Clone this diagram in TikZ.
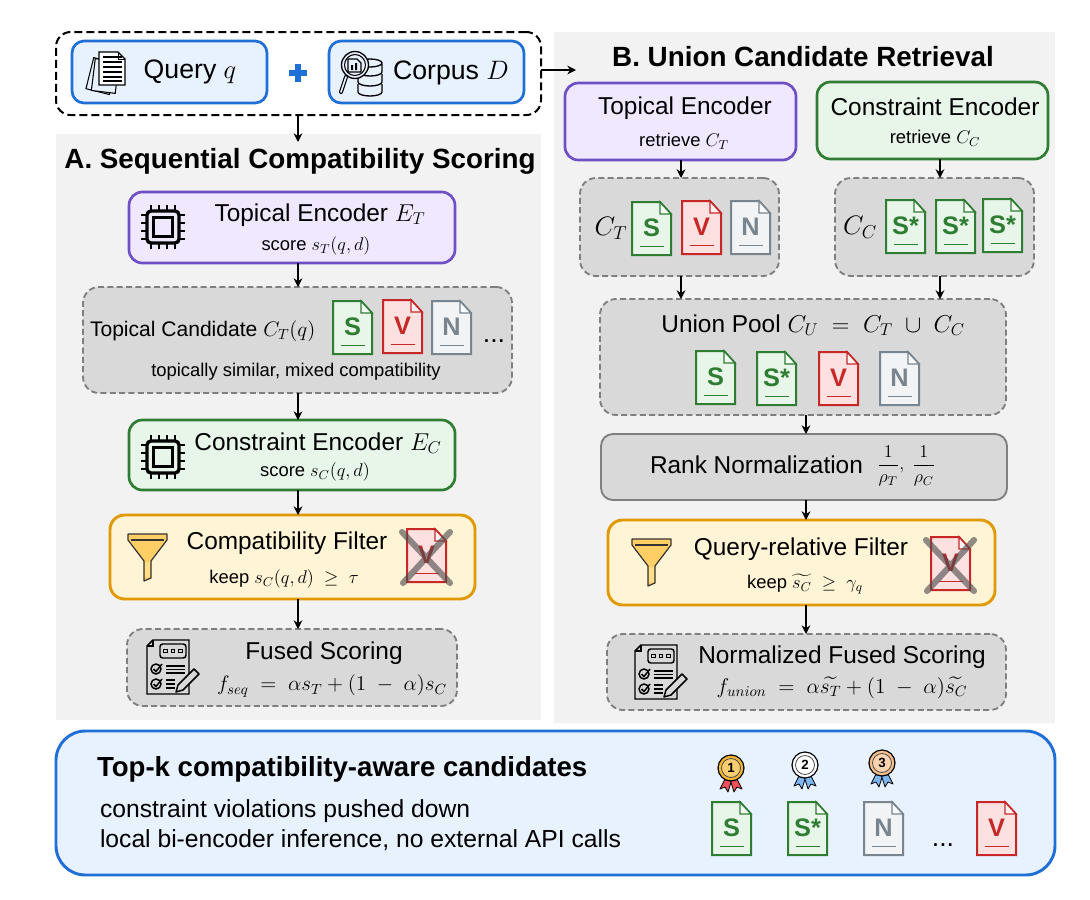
\documentclass[tikz,border=0pt]{standalone}
\usepackage{fix-cm}
\usepackage{amsmath}
\usepackage{fontspec}
\setmainfont{Liberation Sans}
\usetikzlibrary{arrows.meta}
\definecolor{panelc}{HTML}{F2F2F2}
\definecolor{bluel}{HTML}{1F6FD6}
\definecolor{bluef}{HTML}{E8F1FE}
\definecolor{purl}{HTML}{6F4FC4}
\definecolor{purf}{HTML}{F0E8FF}
\definecolor{grnl}{HTML}{2E7D32}
\definecolor{grnf}{HTML}{E8F5E9}
\definecolor{orgl}{HTML}{E09A00}
\definecolor{orgf}{HTML}{FFF4D6}
\definecolor{grayl}{HTML}{7F7F7F}
\definecolor{grayf}{HTML}{D9D9D9}
\definecolor{redl}{HTML}{C62828}
\definecolor{redf}{HTML}{FDE0E0}
\definecolor{redt}{HTML}{C00000}
\definecolor{ngl}{HTML}{78858F}
\definecolor{ngf}{HTML}{F1F3F5}
\definecolor{funf}{HTML}{FFCF66}
\definecolor{funs}{HTML}{FFE08A}
\definecolor{ribb}{HTML}{7DB6F0}
\definecolor{ribr}{HTML}{F0505A}
\definecolor{gold}{HTML}{F7B733}
\definecolor{bronze}{HTML}{F8C08C}
\newcommand\fs[1]{\fontsize{#1}{#1}\selectfont}
\newcommand\bx[6]{%
  \pgfmathsetmacro\bxw{(#5-#3)*0.75}\pgfmathsetmacro\bxh{(#6-#4)*0.75}%
  \pgfmathsetmacro\bxx{(#3+#5)/2}\pgfmathsetmacro\bxy{(#4+#6)/2}%
  \node[#2,minimum width=\bxw pt,minimum height=\bxh pt] (#1) at (\bxx,\bxy) {};}
\tikzset{
  every node/.style={inner sep=0pt,outer sep=0pt},
  panelbox/.style={rectangle,fill=panelc},
  inputgroup/.style={rectangle,draw=black,line width=1.5pt,rounded corners=11pt,dash pattern=on 6pt off 3pt},
  bluebox/.style={rectangle,draw=bluel,fill=bluef,line width=2pt,rounded corners=9pt},
  purbox/.style={rectangle,draw=purl,fill=purf,line width=2pt,rounded corners=10pt},
  grnbox/.style={rectangle,draw=grnl,fill=grnf,line width=2pt,rounded corners=10pt},
  orgbox/.style={rectangle,draw=orgl,fill=orgf,line width=2.2pt,rounded corners=11pt},
  dashbox/.style={rectangle,draw=grayl,fill=grayf,line width=1.4pt,rounded corners=12pt,dash pattern=on 4.5pt off 2.5pt},
  rankbox/.style={rectangle,draw=grayl,fill=grayf,line width=1.4pt,rounded corners=9pt},
  bottombox/.style={rectangle,draw=bluel,fill=bluef,line width=2.2pt,rounded corners=22pt},
  arr/.style={draw=black,line width=1.4pt,-{Stealth[length=6.5pt,width=6.5pt]}},
  tbig/.style={font=\fs{18.3},yshift=-1.5pt},
  tquery/.style={font=\fs{20},yshift=-1.5pt},
  tcand/.style={font=\fs{15.8},yshift=-1.5pt},
  tsmall/.style={font=\fs{13.8},yshift=-1.5pt},
  ttitle/.style={font=\fs{20.85}\bfseries,yshift=-2.2pt},
  tdots/.style={font=\fs{20}},
  pics/docfile/.style n args={3}{code={
    \draw[draw=#2,fill=#1,line width=1.5pt,line join=miter] (0,0) -- (28,0) -- (39,12) -- (39,53) -- (0,53) -- cycle;
    \draw[draw=#2,fill=white!60!#1,line width=1.1pt] (28,0) -- (28,12) -- (39,12) -- cycle;
    \draw[draw=#2,line width=1.4pt] (7.5,44.5) -- (32,44.5);
    \node[font=\fs{19}\bfseries,text=#2] (-lbl) at (19.5,26) {#3};
  }},
  pics/rejected/.style={code={
    \pic {docfile={redf}{redl}{V}};
    \draw[draw=black!70,opacity=.62,line width=4.6pt,line cap=round] (-5,3) -- (43,54) (43,3) -- (-4,54);
  }},
  pics/chip/.style={code={
    \draw[black,line width=2.5pt,rounded corners=3pt] (-16,-16) rectangle (16,16);
    \draw[black,line width=2.5pt] (-9.5,-9.5) rectangle (9.5,9.5);
    \foreach \p in {-12,-4,4,12}{
      \draw[black,line width=2pt] (\p,-22) -- (\p,-16) (\p,16) -- (\p,22) (-22,\p) -- (-16,\p) (16,\p) -- (22,\p);
    }
  }},
  pics/funnel/.style={code={
    \draw[draw=black!80,fill=funf,line width=.9pt,line join=round] (0,0) -- (39,0) -- (39,6) -- (23,27) -- (23,44) -- (16,47) -- (16,27) -- (0,6) -- cycle;
    \draw[draw=black!80,line width=.9pt] (3,6) -- (36,6);
    \fill[funs] (17,28) rectangle (22,43);
  }},
  pics/form/.style={code={
    \draw[black,fill=grayf,line width=1.1pt] (6,0) -- (42,0) -- (42,54) -- (0,54) -- (0,6) -- cycle;
    \draw[black,line width=1.1pt] (6,0) -- (6,6) -- (0,6);
    \draw[black,line width=1.1pt,rounded corners=2pt] (13,4) rectangle (39,18);
    \foreach \p in {18.5,26,33.5}{\draw[black,line width=1pt] (\p-1.8,9.5) rectangle (\p+1.8,12.5);}
    \foreach \p in {29,44}{
      \draw[black,line width=1.1pt] (9,\p) circle (5);
      \draw[black,line width=1.1pt] (6.5,\p) -- (9,\p+2.5) -- (15,\p-5);
    }
    \foreach \p in {26,29.5,33}{\draw[black,line width=1pt] (19,\p) -- (38,\p);}
    \foreach \p in {40,44,48}{\draw[black,line width=1pt] (19,\p) -- (28,\p);}
    \draw[black,fill=grayf,line width=1.1pt,line join=round] (29,52) -- (31,45) -- (47,29) -- (52,34) -- (36,50) -- cycle;
  }},
  pics/pages/.style={code={
    \foreach \a/\dx in {-14/2,-7/6}{
      \draw[black,fill=bluef,line width=.8pt,rotate around={\a:(\dx+12,26)}] (\dx,8) rectangle (\dx+24,40);
    }
    \draw[black,fill=white,line width=1pt] (12,0) -- (31,0) -- (38,7) -- (38,33) -- (12,33) -- cycle;
    \draw[black,line width=.7pt] (31,0) -- (31,7) -- (38,7);
    \foreach \p in {5,10,15,20,25,29}{\draw[black,line width=.9pt] (16,\p) -- (35,\p);}
  }},
  pics/corpus/.style={code={
    \foreach \p in {28,18,8}{
      \draw[black,fill=bluef,line width=1pt] (20,\p+6) -- (20,\p+14) arc[start angle=180,end angle=360,x radius=12,y radius=-4] -- (44,\p+6);
    }
    \draw[black,fill=bluef,line width=1pt] (32,13) ellipse[x radius=12,y radius=4];
    \draw[black,fill=bluef,line width=1pt] (17,15) circle (13.5);
    \draw[black,line width=.8pt] (17,15) circle (10.5);
    \draw[black,fill=bluef,line width=1pt,line join=round] (10,9) -- (19,9) -- (23,13) -- (23,22) -- (10,22) -- cycle;
    \fill[black] (13,15) rectangle (15,20) (17,13) rectangle (19,20);
    \draw[black,line width=3pt,line cap=round] (8,27) -- (3,42);
    \draw[bluef,line width=1.2pt,line cap=round] (8,27) -- (3,42);
  }},
  pics/medal/.style n args={3}{code={
    \draw[black,fill=#2,line width=.6pt,line join=round] (-4,7) -- (-11,21) -- (-6,19) -- (-3,24) -- (1,11) -- cycle;
    \draw[black,fill=#2,line width=.6pt,line join=round] (4,7) -- (11,21) -- (6,19) -- (3,24) -- (-1,11) -- cycle;
    \draw[black,fill=#1,line width=.9pt] (0,0) circle (13);
    \draw[black!70,fill=#1!70!white,line width=.6pt] (0,0) circle (9.5);
    \node[font=\fs{10}\bfseries] (-num) at (0,0) {#3};
  }}
}
\begin{document}
\begin{tikzpicture}[x=0.75pt,y=-0.75pt]
\useasboundingbox (0,0) rectangle (1090,900);
\fill[white] (0,0) rectangle (1090,900);
\coordinate (ax) at (298,0);
\coordinate (bl) at (681,0);
\coordinate (br) at (940,0);
\coordinate (bc) at (806,0);
\coordinate (iy) at (0,70);
\coordinate (aEnd) at (298,142);
\coordinate (bEnd) at (576,70);

% panels
\bx{panelA}{panelbox}{56}{134}{541}{720}
\bx{panelB}{panelbox}{554}{32}{1055}{723}
\node[ttitle] (titleA) at (300,158) {A. Sequential Compatibility Scoring};
\node[ttitle] (titleB) at (803,54) {B. Union Candidate Retrieval};

% inputs
\bx{inputs}{inputgroup}{56}{32}{541}{115}
\bx{query}{bluebox}{72}{41}{267}{103}
\bx{corpus}{bluebox}{329}{41}{524}{103}
\pic at (87,52) {pages};
\pic at (338,50) {corpus};
\node[tquery] (queryT) at (190,70) {Query $q$};
\node[tquery] (corpusT) at (451,71) {Corpus $D$};
\draw[bluel,line width=4.4pt] (289,73) -- (307,73) (298,64) -- (298,82);

% panel A
\bx{aTop}{purbox}{129}{192}{455}{263}
\pic at (163,227) {chip};
\node[tbig] (aTopT) at (320,213) {Topical Encoder $E_T$};
\node[tsmall] (aTopS) at (316,244) {score $s_T(q,d)$};

\bx{aCand}{dashbox}{83}{287}{512}{393}
\node[tcand,anchor=west] (aCandT) at (90,329) {Topical Candidate $C_T(q)$};
\node[tsmall] (aCandS) at (296,370) {topically similar, mixed compatibility};
\pic (aS) at (333,301) {docfile={grnf}{grnl}{S}};
\pic (aV) at (383,300) {docfile={redf}{redl}{V}};
\pic (aN) at (432,301) {docfile={ngf}{ngl}{N}};
\node[tdots] (aDots) at (494,341) {...};

\bx{aCon}{grnbox}{129}{420}{455}{490}
\pic at (163,457) {chip};
\node[tbig] (aConT) at (318,441) {Constraint Encoder $E_C$};
\node[tsmall] (aConS) at (315,470) {score $s_C(q,d)$};

\bx{aFil}{orgbox}{110}{515}{475}{599}
\pic at (128,534) {funnel};
\node[tbig] (aFilT) at (287,541) {Compatibility Filter};
\node[tsmall] (aFilS) at (284,577) {keep $s_C(q,d)\ \geq\ \tau$};
\pic at (407,529) {rejected};

\bx{aFus}{dashbox}{127}{629}{457}{706}
\pic at (147,640) {form};
\node[tbig] (aFusT) at (324,651) {Fused Scoring};
\node[font=\fs{15.8}] (aFusF) at (332,686) {$f_{seq}\ =\ \alpha s_T+(1\ -\ \alpha)s_C$};

\draw[arr] (inputs.south -| ax) -- (aEnd);
\draw[arr] (aTop.south -| ax) -- (aCand.north -| ax);
\draw[arr] (aCand.south -| ax) -- (aCon.north -| ax);
\draw[arr] (aCon.south -| ax) -- (aFil.north -| ax);
\draw[arr] (aFil.south -| ax) -- (aFus.north -| ax);

% panel B
\draw[arr] (inputs.east |- iy) -- (bEnd);

\bx{bTop}{purbox}{565}{83}{796}{160}
\node[tbig] (bTopT) at (685,106) {Topical Encoder};
\node[tsmall] (bTopS) at (684,139) {retrieve $C_T$};
\bx{bCon}{grnbox}{817}{82}{1048}{159}
\node[tbig] (bConT) at (935,105) {Constraint Encoder};
\node[tsmall] (bConS) at (935,136) {retrieve $C_C$};

\bx{bCT}{dashbox}{580}{178}{779}{276}
\node[font=\fs{20}] (bCTT) at (611,228) {$C_T$};
\pic (bS) at (632,202) {docfile={grnf}{grnl}{S}};
\pic (bV) at (682,201) {docfile={redf}{redl}{V}};
\pic (bN) at (731,201) {docfile={ngf}{ngl}{N}};

\bx{bCC}{dashbox}{835}{178}{1034}{276}
\node[font=\fs{20}] (bCCT) at (860,227) {$C_C$};
\pic (bC1) at (886,200) {docfile={grnf}{grnl}{S*}};
\pic (bC2) at (936,200) {docfile={grnf}{grnl}{S*}};
\pic (bC3) at (983,199) {docfile={grnf}{grnl}{S*}};

\bx{bUni}{dashbox}{600}{299}{1006}{415}
\node[tbig] (bUniT) at (813,323) {Union Pool $C_U\ =\ C_T\ \cup\ C_C$};
\pic (uS) at (696,351) {docfile={grnf}{grnl}{S}};
\pic (uSs) at (757,352) {docfile={grnf}{grnl}{S*}};
\pic (uV) at (819,352) {docfile={redf}{redl}{V}};
\pic (uN) at (880,352) {docfile={ngf}{ngl}{N}};

\bx{bRank}{rankbox}{601}{434}{1007}{500}
\node[tbig,anchor=west] (bRankT) at (650,463) {Rank Normalization};
\node[font=\fs{13.5},anchor=west] (bRankF) at (877,466) {$\dfrac{1}{\rho_T},\ \dfrac{1}{\rho_C}$};

\bx{bFil}{orgbox}{608}{520}{995}{605}
\pic at (632,539) {funnel};
\node[tbig] (bFilT) at (801,547) {Query-relative Filter};
\node[tsmall] (bFilS) at (805,582) {keep $\widetilde{s_C}\ \geq\ \gamma_q$};
\pic at (931,537) {rejected};

\bx{bFus}{dashbox}{607}{634}{1006}{710}
\pic at (635,645) {form};
\node[tbig] (bFusT) at (842,655) {Normalized Fused Scoring};
\node[font=\fs{16}] (bFusF) at (842,688) {$f_{union}\ =\ \alpha\widetilde{s_T}+(1\ -\ \alpha)\widetilde{s_C}$};

\draw[arr] (bTop.south -| bl) -- (bCT.north -| bl);
\draw[arr] (bCon.south -| br) -- (bCC.north -| br);
\draw[arr] (bCT.south -| bl) -- (bUni.north -| bl);
\draw[arr] (bCC.south -| br) -- (bUni.north -| br);
\draw[arr] (bUni.south -| bc) -- (bRank.north -| bc);
\draw[arr] (bRank.south -| bc) -- (bFil.north -| bc);
\draw[arr] (bFil.south -| bc) -- (bFus.north -| bc);

% bottom
\bx{bottom}{bottombox}{56}{731}{1055}{875}
\node[font=\fs{20.7}\bfseries,anchor=west,yshift=-2pt] (botT) at (97,767) {Top-k compatibility-aware candidates};
\node[font=\fs{18.5},anchor=west,yshift=-1.5pt] (botA) at (100,809) {constraint violations pushed down};
\node[font=\fs{18.5},anchor=west,yshift=-1.5pt] (botB) at (100,838) {local bi-encoder inference, no external API calls};
\pic at (731,768) {medal={gold}{ribr}{1}};
\pic at (805,765) {medal={white}{ribb}{2}};
\pic at (882,763) {medal={bronze}{ribb}{3}};
\pic (tS) at (712,802) {docfile={grnf}{grnl}{S}};
\pic (tSs) at (788,802) {docfile={grnf}{grnl}{S*}};
\pic (tN) at (864,802) {docfile={ngf}{ngl}{N}};
\pic (tV) at (977,802) {docfile={redf}{redl}{V}};
\node[tdots] (tDots) at (943,845) {...};
\end{tikzpicture}
\end{document}
